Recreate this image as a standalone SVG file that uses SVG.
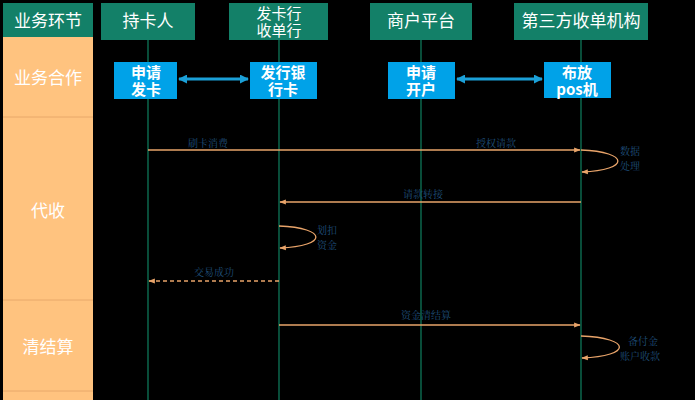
<svg xmlns="http://www.w3.org/2000/svg" width="695" height="400" viewBox="0 0 695 400">
<style>
.hd{fill:#138068}
.ht{fill:#fff;font-family:"Noto Sans CJK SC",sans-serif;font-size:17px;text-anchor:middle}
.hs{fill:#fff;font-family:"Noto Sans CJK SC",sans-serif;font-size:15px;text-anchor:middle}
.bx{fill:#00A2E8}
.bt{fill:#fff;font-family:"Noto Sans CJK SC",sans-serif;font-size:15px;font-weight:bold;text-anchor:middle}
.ll{stroke:#0F8060;stroke-width:1.2}
.m{stroke:#E9A46A;stroke-width:1.3;fill:none}
.ml{fill:#1F4E79;font-family:"Noto Serif CJK SC","Noto Sans CJK SC",serif;font-size:10px}
.lt{fill:#fff;font-family:"Noto Sans CJK SC",sans-serif;font-size:17px;text-anchor:middle}
</style>
<defs>
<marker id="a" viewBox="0 0 10 10" refX="9" refY="5" markerWidth="5" markerHeight="5" orient="auto-start-reverse"><path d="M0,1 L10,5 L0,9z" fill="#E9A46A"/></marker>
<marker id="b" viewBox="0 0 10 10" refX="9" refY="5" markerWidth="3" markerHeight="3" orient="auto-start-reverse"><path d="M0,0 L10,5 L0,10z" fill="#1BA0D8"/></marker>
</defs>
<rect width="695" height="400" fill="#000"/>
<g id="lane">
<rect x="3" y="37" width="90" height="363" fill="#FFC37F"/>
<line x1="3" y1="117" x2="93" y2="117" stroke="#E8A86A"/>
<line x1="3" y1="300" x2="93" y2="300" stroke="#E8A86A"/>
<line x1="3" y1="391" x2="93" y2="391" stroke="#E8A86A"/>
<rect x="3" y="3" width="90" height="34" class="hd"/>
<text x="48" y="27" class="ht">业务环节</text>
<text x="48" y="84" class="lt">业务合作</text>
<text x="48" y="217" class="lt">代收</text>
<text x="48" y="353" class="lt">清结算</text>
</g>
<g id="lifelines">
<line x1="148" y1="40" x2="148" y2="400" class="ll"/>
<line x1="279" y1="40" x2="279" y2="400" class="ll"/>
<line x1="421" y1="40" x2="421" y2="400" class="ll"/>
<line x1="581" y1="40" x2="581" y2="400" class="ll"/>
</g>
<g id="h1"><rect x="101" y="3" width="94" height="37" class="hd"/><text x="148" y="27" class="ht">持卡人</text></g>
<g id="h2"><rect x="229" y="3" width="99" height="37" class="hd"/><text x="279" y="19" class="hs">发卡行</text><text x="279" y="36" class="hs">收单行</text></g>
<g id="h3"><rect x="370" y="3" width="102" height="37" class="hd"/><text x="421" y="27" class="ht">商户平台</text></g>
<g id="h4"><rect x="514" y="3" width="134" height="37" class="hd"/><text x="581" y="27" class="ht">第三方收单机构</text></g>
<g id="b1"><rect x="114" y="62" width="63" height="37" class="bx"/><text x="146" y="78" class="bt">申请</text><text x="146" y="95" class="bt">发卡</text></g>
<g id="b2"><rect x="250" y="62" width="67" height="37" class="bx"/><text x="283" y="78" class="bt">发行银</text><text x="283" y="95" class="bt">行卡</text></g>
<g id="b3"><rect x="388" y="62" width="67" height="37" class="bx"/><text x="421" y="78" class="bt">申请</text><text x="421" y="95" class="bt">开户</text></g>
<g id="b4"><rect x="544" y="62" width="67" height="36" class="bx"/><text x="577" y="78" class="bt">布放</text><text x="577" y="95" class="bt">pos机</text></g>
<g id="connectors">
<line x1="179" y1="79" x2="248" y2="79" stroke="#1BA0D8" stroke-width="3" marker-start="url(#b)" marker-end="url(#b)"/>
<line x1="457" y1="79" x2="542" y2="79" stroke="#1BA0D8" stroke-width="3" marker-start="url(#b)" marker-end="url(#b)"/>
<line x1="148" y1="150" x2="580" y2="150" class="m" marker-end="url(#a)"/>
<path d="M581,150 C630,152 630,170 582,172" class="m" marker-end="url(#a)"/>
<line x1="581" y1="202" x2="280" y2="202" class="m" marker-end="url(#a)"/>
<path d="M279,226 C328,228 328,246 280,248" class="m" marker-end="url(#a)"/>
<line x1="279" y1="281" x2="149" y2="281" class="m" stroke-dasharray="4,3" marker-end="url(#a)"/>
<line x1="279" y1="325" x2="580" y2="325" class="m" marker-end="url(#a)"/>
<path d="M581,336 C632,338 632,356 582,358" class="m" marker-end="url(#a)"/>
</g>
<g id="labels">
<text x="188" y="147" class="ml">刷卡消费</text>
<text x="476" y="147" class="ml">授权请款</text>
<text x="620" y="155" class="ml">数据</text>
<text x="620" y="170" class="ml">处理</text>
<text x="403" y="198" class="ml">请款转接</text>
<text x="317" y="234" class="ml">划扣</text>
<text x="317" y="249" class="ml">资金</text>
<text x="194" y="276" class="ml">交易成功</text>
<text x="401" y="319" class="ml">资金清结算</text>
<text x="628" y="345" class="ml">备付金</text>
<text x="620" y="360" class="ml">账户收款</text>
</g>
</svg>
